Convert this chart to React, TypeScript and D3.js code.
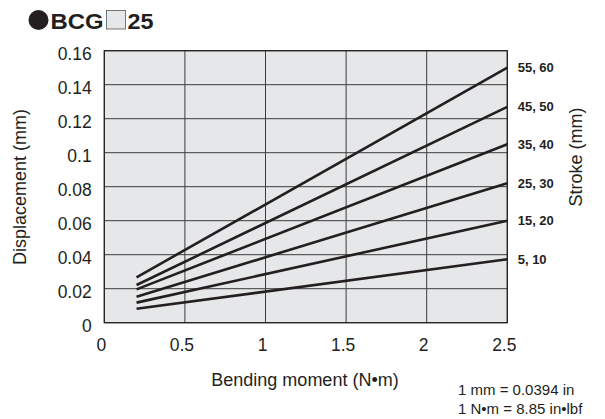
import React from "react";
import * as d3 from "d3";

const xTicks = [0, 0.5, 1, 1.5, 2, 2.5];
const yTicks = [0, 0.02, 0.04, 0.06, 0.08, 0.1, 0.12, 0.14, 0.16];
const yTickLabels = ["0", "0.02", "0.04", "0.06", "0.08", "0.1", "0.12", "0.14", "0.16"];
const strokeLabels = ["55, 60", "45, 50", "35, 40", "25, 30", "15, 20", "5, 10"];
const xStart = [0.2, 0.2, 0.2, 0.2, 0.2, 0.2];
const xEnd = [2.5, 2.5, 2.5, 2.5, 2.5, 2.5];
const yStart = [0.0267, 0.0222, 0.0196, 0.0153, 0.0118, 0.0082];
const yEnd = [0.150, 0.127, 0.105, 0.082, 0.060, 0.0373];

const W = 605;
const H = 419;
const L = 104.3, R = 507.3, T = 50.7, B = 322.7;
const FONT = "'Liberation Sans', Arial, Helvetica, sans-serif";
const INK = "#231f20";

export default function App() {
  const x = d3.scaleLinear().domain([0, 2.5]).range([L, R]);
  const y = d3.scaleLinear().domain([0, 0.16]).range([B, T]);
  const line = d3.line<[number, number]>().x(d => x(d[0])).y(d => y(d[1]));

  return (
    <svg width={W} height={H} style={{ position: "absolute", left: 0, top: 0, background: "#fff" }}
      fontFamily={FONT}>
      {/* title */}
      <circle cx={38.5} cy={20} r={10} fill={INK} />
      <text x={50.5} y={28.8} fontSize={22} fontWeight="bold" fill={INK} textLength={53}
        lengthAdjust="spacingAndGlyphs">BCG</text>
      <rect x={106.5} y={10.5} width={19} height={18.5} fill="#e6e7e8" stroke="#555" strokeWidth={0.8} />
      <text x={127.5} y={28.8} fontSize={22} fontWeight="bold" fill={INK} textLength={26}
        lengthAdjust="spacingAndGlyphs">25</text>

      {/* plot area */}
      <rect x={L} y={T} width={R - L} height={B - T} fill="#e6e7e8" />
      {xTicks.map((t, i) => (
        <line key={"gx" + i} x1={x(t)} x2={x(t)} y1={T} y2={B} stroke="#3c3c3c" strokeWidth={1} />
      ))}
      {yTicks.map((t, i) => (
        <line key={"gy" + i} x1={L} x2={R} y1={y(t)} y2={y(t)} stroke="#3c3c3c" strokeWidth={1} />
      ))}
      <rect x={L} y={T} width={R - L} height={B - T} fill="none" stroke={INK} strokeWidth={1.2} />

      {/* series */}
      {strokeLabels.map((lab, i) => (
        <g key={"s" + i}>
          <path d={line([[xStart[i], yStart[i]], [xEnd[i], yEnd[i]]]) || ""} fill="none" stroke={INK}
            strokeWidth={2.6} />
          <text x={x(xEnd[i]) + 10.4} y={y(yEnd[i])} dy="0.35em" fontSize={13} fontWeight="bold" fill={INK}>
            {lab}
          </text>
        </g>
      ))}

      {/* y tick labels */}
      {yTicks.map((t, i) => (
        <text key={"yl" + i} x={91.7} y={y(t) + 9.3} textAnchor="end" fontSize={17.5} fill={INK}>
          {yTickLabels[i]}
        </text>
      ))}
      {/* x tick labels */}
      {xTicks.map((t, i) => (
        <text key={"xl" + i} x={x(t) - 3} y={351} textAnchor="middle" fontSize={17.5} fill={INK}>
          {String(t)}
        </text>
      ))}

      <text transform={`translate(25.5,187) rotate(-90)`} textAnchor="middle" fontSize={18} fill={INK}>
        Displacement (mm)
      </text>
      <text x={305} y={385.5} textAnchor="middle" fontSize={18} fill={INK}>Bending moment (N•m)</text>
      <text transform={`translate(581.5,157) rotate(-90)`} textAnchor="middle" fontSize={18} fill={INK}>
        Stroke (mm)
      </text>

      <text x={458} y={395} fontSize={15} fill={INK}>1 mm = 0.0394 in</text>
      <text x={458} y={414} fontSize={15} fill={INK}>1 N•m = 8.85 in•lbf</text>
    </svg>
  );
}
